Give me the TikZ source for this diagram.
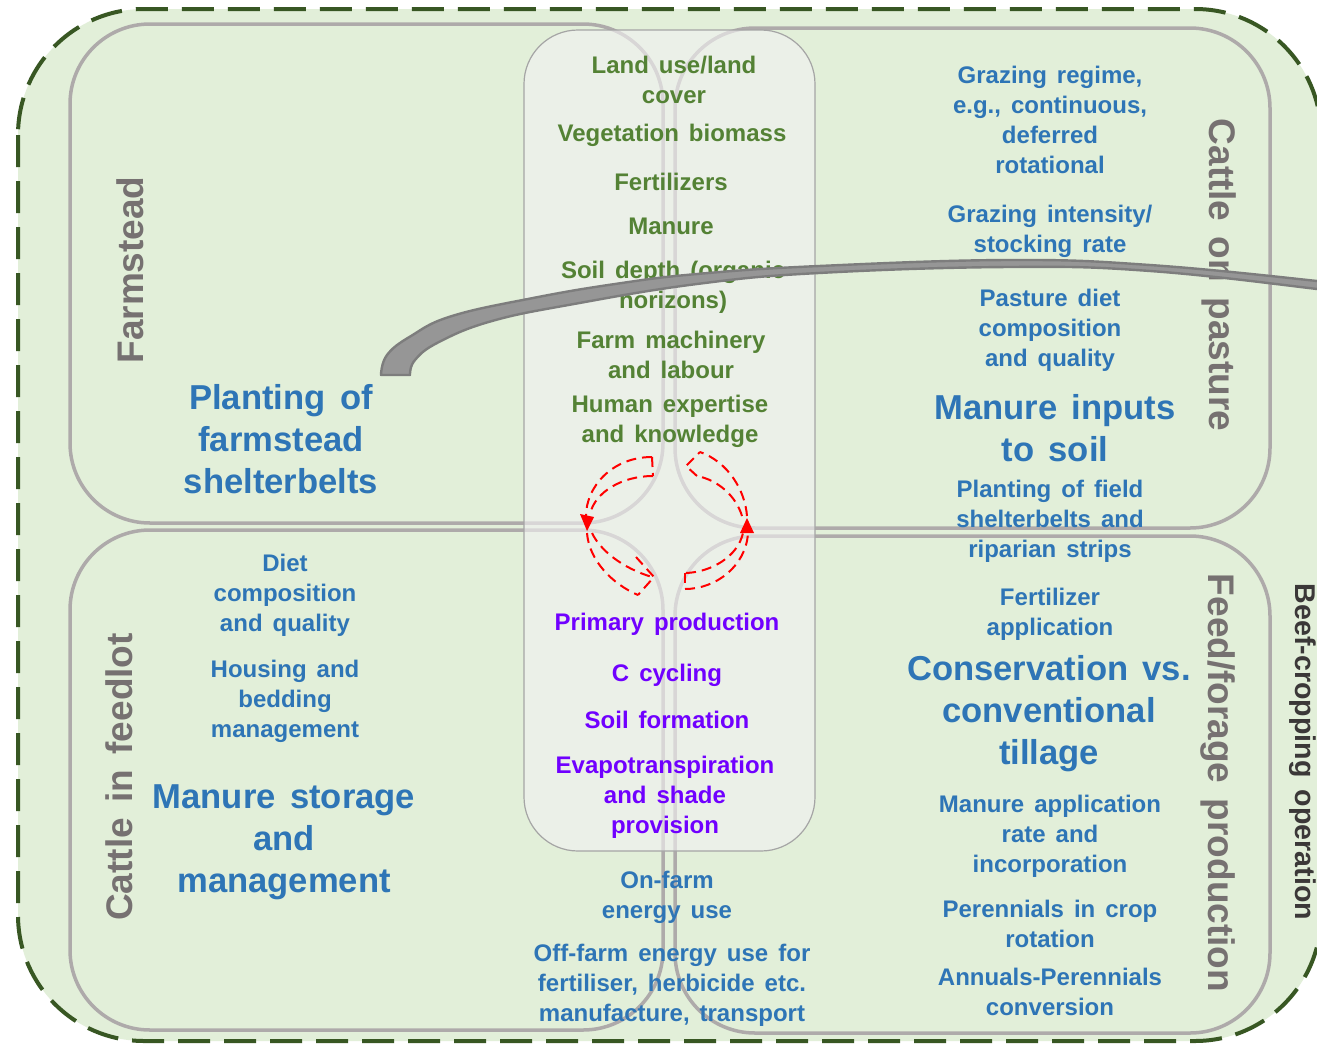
\documentclass[tikz,border=0pt]{standalone}
\usepackage{fontspec}
\setmainfont{Liberation Sans}[WordSpace=1.5]
\definecolor{bg}{RGB}{226,239,217}
\definecolor{frame}{RGB}{56,87,35}
\definecolor{boxline}{RGB}{174,170,170}
\definecolor{txtgreen}{RGB}{84,130,53}
\definecolor{txtblue}{RGB}{46,117,182}
\definecolor{txtpurple}{RGB}{112,0,255}
\definecolor{labgrey}{RGB}{118,113,113}
\definecolor{darklab}{RGB}{59,56,56}
\definecolor{arrowgrey}{RGB}{125,125,125}
\definecolor{arrowfill}{RGB}{150,150,150}
\definecolor{corefill}{RGB}{242,242,242}
\definecolor{coreline}{RGB}{165,165,165}
\begin{document}
\begin{tikzpicture}[x={(0.5pt,0pt)},y={(0pt,-0.5pt)},
  quadbox/.style={draw=boxline, line width=1.75pt, rounded corners=40pt},
  smalltxt/.style={font=\fontsize{12}{15}\selectfont\bfseries, align=center, inner sep=0pt},
  bigtxt/.style={font=\fontsize{17.3}{21}\selectfont\bfseries, align=center, inner sep=0pt, text=txtblue},
  grouplbl/.style={font=\fontsize{18.5}{22}\selectfont\bfseries, text=labgrey, inner sep=0pt},
  redflow/.style={draw=red, line width=1pt, dash pattern=on 5pt off 3pt}]

\useasboundingbox (0,0) rectangle (1317,1044);
\fill[white] (0,0) rectangle (1317,1044);

% whole operation boundary
\draw[fill=bg, draw=frame, line width=2pt, dash pattern=on 16pt off 7pt, rounded corners=63pt]
  (18,9) rectangle (1321,1041);

% the four production units
\draw[quadbox] (70,24) rectangle (663,523);
\draw[quadbox] (675,28) rectangle (1270,528);
\draw[quadbox] (70,530) rectangle (663,1030);
\draw[quadbox] (675,536) rectangle (1270,1033);

% shared core of environmental factors and processes
\draw[fill=corefill, fill opacity=0.62, draw=coreline, line width=0.6pt, rounded corners=27pt]
  (524,30) rectangle (815,851);

% cycle of processes
\draw[redflow] (652,457) .. controls (612,457) and (586,487) .. (586,516);
\draw[redflow] (653,476) .. controls (622,476) and (595,492) .. (590,514);
\draw[redflow] (652,457) -- (653,476);
\fill[red] (580,514) -- (594,517) -- (587,531) -- cycle;

\draw[redflow] (587,533) .. controls (589,560) and (612,584) .. (638,595);
\draw[redflow] (592,533) .. controls (600,550) and (622,568) .. (652,577);
\draw[redflow] (636,557) -- (654,577) -- (638,595);

\draw[redflow] (685,589) .. controls (716,589) and (746,566) .. (748,533);
\draw[redflow] (686,573) .. controls (712,572) and (738,556) .. (743,533);
\draw[redflow] (685,573) -- (685,589);
\fill[red] (740,533) -- (754,533) -- (747,518) -- cycle;

\draw[redflow] (747,516) .. controls (745,490) and (728,462) .. (700,452);
\draw[redflow] (742,516) .. controls (736,496) and (718,480) .. (697,476);
\draw[redflow] (697,476) -- (686,466) -- (700,452);

% unit labels
\node[grouplbl, rotate=90] (farmstead) at (130,270) {Farmstead};
\node[grouplbl, rotate=90] (feedlot) at (119,777) {Cattle in feedlot};
\node[grouplbl, rotate=-90] (pasture) at (1219,275) {Cattle on pasture};
\node[grouplbl, rotate=-90] (forage) at (1218,783) {Feed/forage production};
\node[font=\fontsize{14.3}{17}\selectfont\bfseries, text=darklab, inner sep=0pt, rotate=-90]
  (operation) at (1303,752) {Beef-cropping operation};

% environmental factors
\node[smalltxt, text=txtgreen] (landuse) at (674,80) {Land use/land\\cover};
\node[smalltxt, text=txtgreen] (biomass) at (672,135) {Vegetation biomass};
\node[smalltxt, text=txtgreen] (fert) at (671,182) {Fertilizers};
\node[smalltxt, text=txtgreen] (manure) at (671,226) {Manure};
\node[smalltxt, text=txtgreen] (soildepth) at (673,287) {Soil depth (organic\\horizons)};
\node[smalltxt, text=txtgreen] (machinery) at (671,355) {Farm machinery\\and labour};
\node[smalltxt, text=txtgreen] (expertise) at (670,421) {Human expertise\\and knowledge};

% processes
\node[smalltxt, text=txtpurple] (primary) at (667,624) {Primary production};
\node[smalltxt, text=txtpurple] (ccycle) at (667,675) {C cycling};
\node[smalltxt, text=txtpurple] (soilform) at (667,720) {Soil formation};
\node[smalltxt, text=txtpurple] (evapo) at (665,797) {Evapotranspiration\\and shade\\provision};

% energy use
\node[smalltxt, text=txtblue] (onfarm) at (667,897) {On-farm\\energy use};
\node[smalltxt, text=txtblue] (offfarm) at (672,985) {Off-farm energy use for\\fertiliser, herbicide etc.\\manufacture, transport};

% pasture practices
\node[smalltxt, text=txtblue] (grazereg) at (1050,120) {Grazing regime,\\e.g., continuous,\\deferred\\rotational};
\node[smalltxt, text=txtblue] (grazeint) at (1050,231) {Grazing intensity/\\stocking rate};
\node[smalltxt, text=txtblue] (pastdiet) at (1050,330) {Pasture diet\\composition\\and quality};
\node[bigtxt] (manin) at (1055,428) {Manure inputs\\to soil};
\node[smalltxt, text=txtblue] (fieldbelt) at (1050,521) {Planting of field\\shelterbelts and\\riparian strips};

% cropping practices
\node[smalltxt, text=txtblue] (fertapp) at (1050,614) {Fertilizer\\application};
\node[bigtxt] (tillage) at (1049,714) {Conservation vs.\\conventional\\tillage};
\node[smalltxt, text=txtblue] (manapp) at (1050,836) {Manure application\\rate and\\incorporation};
\node[smalltxt, text=txtblue] (perenn) at (1050,924) {Perennials in crop\\rotation};
\node[smalltxt, text=txtblue] (annual) at (1050,992) {Annuals-Perennials\\conversion};

% feedlot practices
\node[smalltxt, text=txtblue] (diet) at (285,595) {Diet\\composition\\and quality};
\node[smalltxt, text=txtblue] (housing) at (285,701) {Housing and\\bedding\\management};
\node[bigtxt] (storage) at (284,842) {Manure storage\\and\\management};

% farmstead practice
\node[bigtxt] (shelter) at (281,439) {Planting of\\farmstead\\shelterbelts};

% link from farmstead shelterbelts across the operation
\filldraw[fill=arrowfill, draw=arrowgrey, line width=1.2pt, line join=round]
  plot[smooth, tension=0.7] coordinates {(381,375) (387,355) (411,336) (452,316) (533,298)
    (615,284) (697,274) (819,266) (1010,260) (1150,265) (1317,281) (1345,286)}
  -- plot[smooth, tension=0.7] coordinates {(1345,294) (1317,289) (1150,271) (1010,267)
    (819,273) (697,284) (574,304) (492,321) (439,342) (415,360) (410,375)}
  -- cycle;
\end{tikzpicture}
\end{document}
